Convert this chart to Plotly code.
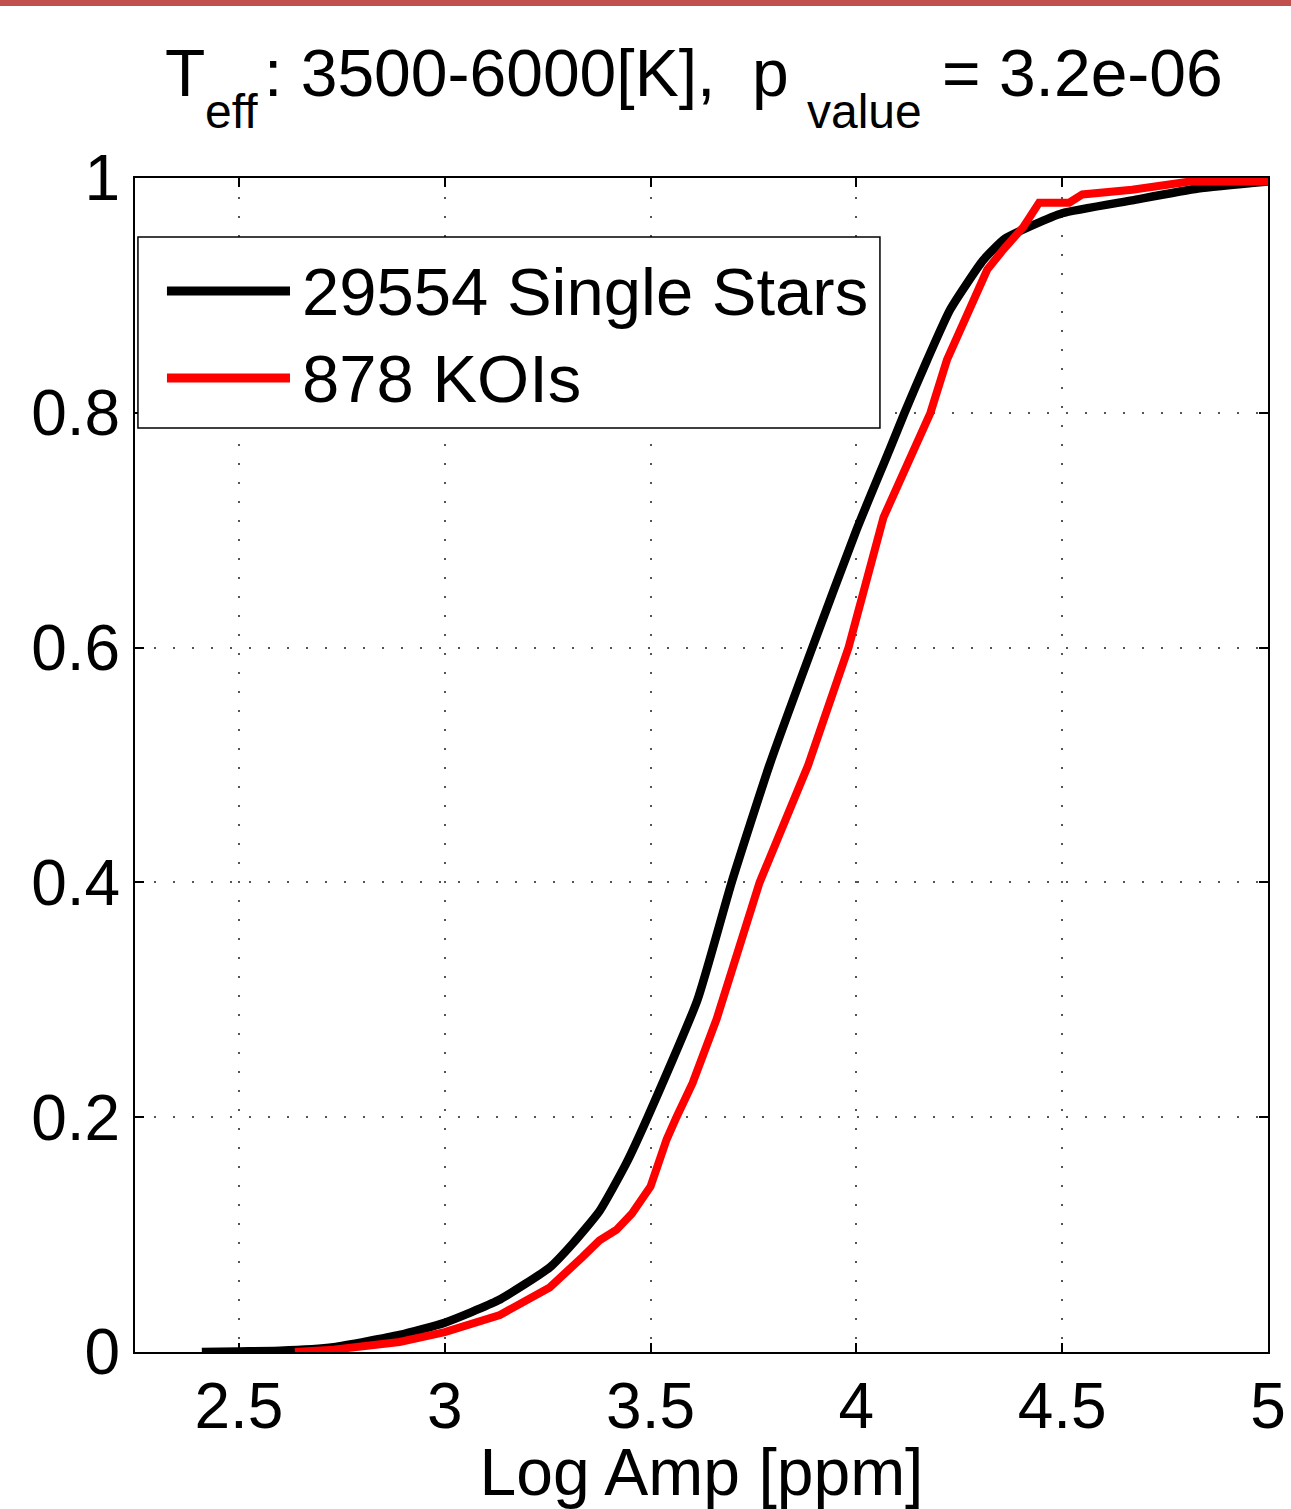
import plotly.graph_objects as go

# ---- data (CDF curves) ----
single_x = [2.41, 2.5, 2.6, 2.73, 2.89, 3.0, 3.13, 3.255, 3.31, 3.376, 3.44, 3.493,
            3.614, 3.697, 3.789, 3.893, 4.0, 4.08, 4.117, 4.172, 4.228, 4.308,
            4.36, 4.43, 4.5, 4.67, 4.83, 5.0]
single_y = [0.0, 0.0005, 0.001, 0.004, 0.0145, 0.025, 0.044, 0.072, 0.092, 0.12, 0.16, 0.2,
            0.3, 0.4, 0.5, 0.6, 0.7, 0.768, 0.8, 0.845, 0.888, 0.93,
            0.948, 0.96, 0.97, 0.981, 0.991, 0.997]

koi_x = [2.636, 2.73, 2.89, 3.0, 3.134, 3.255, 3.335, 3.376, 3.417, 3.455, 3.5, 3.539,
         3.563, 3.602, 3.66, 3.675, 3.765, 3.883, 3.981, 4.066, 4.139, 4.18, 4.22,
         4.269, 4.318, 4.357, 4.405, 4.444, 4.517, 4.549, 4.67, 4.81, 5.0]
koi_y = [0.0, 0.002, 0.0085, 0.017, 0.0315, 0.055, 0.081, 0.095, 0.104, 0.118, 0.141, 0.181,
         0.2, 0.229, 0.283, 0.3, 0.4, 0.5, 0.6, 0.711, 0.768, 0.8, 0.845,
         0.882, 0.922, 0.939, 0.958, 0.979, 0.979, 0.986, 0.990, 0.997, 0.997]

series_names = ["29554 Single Stars", "878 KOIs"]
series_colors = ["#000000", "#FF0000"]

x_ticks = [2.5, 3.0, 3.5, 4.0, 4.5, 5.0]
x_tick_labels = ["2.5", "3", "3.5", "4", "4.5", "5"]
y_ticks = [0, 0.2, 0.4, 0.6, 0.8, 1.0]
y_tick_labels = ["0", "0.2", "0.4", "0.6", "0.8", "1"]

# title pieces: (text, is_subscript)
title_parts = [("T", False), ("eff", True), (": 3500-6000[K],  p", False),
               ("value", True), ("= 3.2e-06", False)]
x_title = "Log Amp [ppm]"

FONT = "Liberation Sans, Arial, Helvetica, sans-serif"

fig = go.Figure()
fig.add_trace(go.Scatter(x=single_x, y=single_y, mode="lines", name=series_names[0],
                         line=dict(color=series_colors[0], width=8.5, shape="spline",
                                   smoothing=0.5)))
fig.add_trace(go.Scatter(x=koi_x, y=koi_y, mode="lines", name=series_names[1],
                         line=dict(color=series_colors[1], width=8)))

# manual MATLAB-like legend (box, sample lines, labels)
shapes = [
    dict(type="rect", xref="paper", yref="paper", x0=0.0026, x1=0.6575,
         y0=0.7871, y1=0.9497, line=dict(color="black", width=1.5),
         fillcolor="white", layer="above"),
]
ann = []
leg_y = [0.9037, 0.8296]
for i in range(2):
    shapes.append(dict(type="line", xref="paper", yref="paper", x0=0.0282, x1=0.1368,
                       y0=leg_y[i], y1=leg_y[i],
                       line=dict(color=series_colors[i], width=9), layer="above"))
    ann.append(dict(text=series_names[i], xref="paper", yref="paper", x=0.146,
                    y=leg_y[i], xanchor="left", yanchor="middle", showarrow=False,
                    font=dict(size=67, color="black", family=FONT)))

# title, built piecewise so the subscripts sit low like the original
title_x = [0.0247, 0.0600, 0.1121, 0.5913, 0.7105]
for (txt, sub), xp in zip(title_parts, title_x):
    ann.append(dict(text=txt, xref="paper", yref="paper", x=xp,
                    y=1.0567 if sub else 1.0892, xanchor="left", yanchor="middle",
                    showarrow=False,
                    font=dict(size=48 if sub else 66, color="black", family=FONT)))

# red band at the very top of the image
shapes.append(dict(type="rect", xref="paper", yref="paper", x0=-0.2, x1=1.1,
                   y0=1.1465, y1=1.16, line=dict(width=0), fillcolor="#C0504D",
                   layer="above"))

fig.update_layout(
    width=1291, height=1509,
    margin=dict(l=135, r=23, t=178, b=157, autoexpand=False),
    paper_bgcolor="white", plot_bgcolor="white",
    font=dict(family=FONT, color="black", size=64),
    shapes=shapes, annotations=ann,
    showlegend=False,
)
fig.update_xaxes(range=[2.2476, 5.0], tickvals=x_ticks, ticktext=x_tick_labels,
                 ticks="inside", ticklen=9, tickwidth=1.5, tickcolor="black",
                 showline=True, linecolor="black", linewidth=2, mirror="allticks",
                 showgrid=True, gridcolor="#555555", gridwidth=1.5, griddash="2px,17px",
                 zeroline=False, ticklabelstandoff=-3, automargin=False,
                 tickfont=dict(size=64, family=FONT, color="black"),
                 title=dict(text=x_title, standoff=0,
                            font=dict(size=66, family=FONT, color="black")))
fig.update_yaxes(range=[0, 1.0], tickvals=y_ticks, ticktext=y_tick_labels,
                 ticks="inside", ticklen=9, tickwidth=1.5, tickcolor="black",
                 showline=True, linecolor="black", linewidth=2, mirror="allticks",
                 showgrid=True, gridcolor="#555555", gridwidth=1.5, griddash="2px,17px",
                 zeroline=False, ticklabelstandoff=0, automargin=False,
                 tickfont=dict(size=64, family=FONT, color="black"))

fig.write_html("out.html", config={"displayModeBar": False},
               post_script="document.body.style.margin='0';document.body.style.padding='0';")
